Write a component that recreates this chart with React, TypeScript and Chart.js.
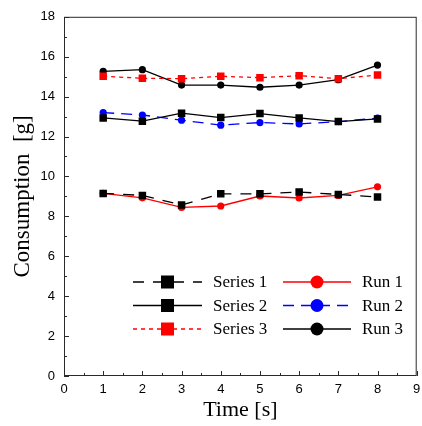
import React, { useEffect, useRef } from "react";
import { Chart, registerables } from "chart.js";
Chart.register(...registerables);

const times = [1, 2, 3, 4, 5, 6, 7, 8];
const series1 = [9.15, 9.05, 8.57, 9.13, 9.13, 9.22, 9.1, 8.97];
const series2 = [12.93, 12.77, 13.17, 12.95, 13.15, 12.93, 12.75, 12.88];
const series3 = [15.02, 14.92, 14.9, 15.02, 14.95, 15.05, 14.9, 15.08];
const run1 = [9.15, 8.93, 8.45, 8.52, 9.02, 8.92, 9.05, 9.48];
const run2 = [13.2, 13.08, 12.82, 12.57, 12.7, 12.63, 12.75, 12.92];
const run3 = [15.27, 15.35, 14.58, 14.58, 14.47, 14.58, 14.85, 15.58];

const xMin = 0, xMax = 9, xStep = 1;
const yMin = 0, yMax = 18, yStep = 2;
const xTickLabels = ["0", "1", "2", "3", "4", "5", "6", "7", "8", "9"];
const xTitle = "Time [s]";
const yTitle = "Consumption  [g]";

const SERIF = "'Liberation Serif', 'Times New Roman', serif";
const SANS = "'Liberation Sans', Arial, sans-serif";

type Def = { label: string; data: number[]; color: string; dash: number[]; style: "rect" | "circle" };
const defs: Def[] = [
  { label: "Series 1", data: series1, color: "#000000", dash: [11, 9], style: "rect" },
  { label: "Series 2", data: series2, color: "#000000", dash: [], style: "rect" },
  { label: "Series 3", data: series3, color: "#ff0000", dash: [4, 4], style: "rect" },
  { label: "Run 1", data: run1, color: "#ff0000", dash: [], style: "circle" },
  { label: "Run 2", data: run2, color: "#0000ff", dash: [11, 7], style: "circle" },
  { label: "Run 3", data: run3, color: "#000000", dash: [], style: "circle" },
];

const framePlugin = {
  id: "frame",
  afterDraw(chart: any) {
    const ctx = chart.ctx;
    const a = chart.chartArea;
    const xs = chart.scales.x;
    const ys = chart.scales.y;
    ctx.save();
    ctx.strokeStyle = "#2a2a2a";
    ctx.lineWidth = 1;
    ctx.strokeRect(a.left + 0.5, a.top + 0.5, a.right - a.left - 1, a.bottom - a.top - 1);
    ctx.beginPath();
    for (let v = xMin; v <= xMax + 1e-9; v += xStep / 2) {
      const px = Math.round(xs.getPixelForValue(v)) + 0.5;
      const major = Math.abs(v - Math.round(v)) < 1e-9;
      ctx.moveTo(px, a.bottom);
      ctx.lineTo(px, a.bottom - (major ? 5 : 3));
    }
    for (let v = yMin; v <= yMax + 1e-9; v += yStep / 2) {
      const py = Math.round(ys.getPixelForValue(v)) + 0.5;
      const major = Math.abs(v / yStep - Math.round(v / yStep)) < 1e-9;
      ctx.moveTo(a.left, py);
      ctx.lineTo(a.left + (major ? 5 : 3), py);
    }
    ctx.stroke();

    // x tick labels
    ctx.fillStyle = "#000";
    ctx.font = `13px ${SANS}`;
    ctx.textAlign = "center";
    ctx.textBaseline = "middle";
    xTickLabels.forEach((t, i) => {
      ctx.fillText(t, xs.getPixelForValue(xMin + i * xStep), a.bottom + 13);
    });

    // axis titles
    ctx.font = `22px ${SERIF}`;
    ctx.fillText(xTitle, (a.left + a.right) / 2, 410);
    ctx.save();
    ctx.translate(23, (a.top + a.bottom) / 2);
    ctx.rotate(-Math.PI / 2);
    ctx.font = `23px ${SERIF}`;
    ctx.fillText(yTitle, 0, 0);
    ctx.restore();

    // legend
    const cols = [
      { lineL: 133, lineR: 202, marker: 167.5, text: 213 },
      { lineL: 283, lineR: 351, marker: 317, text: 362 },
    ];
    const rows = [282, 305.5, 329];
    ctx.font = `17px ${SERIF}`;
    ctx.textAlign = "left";
    defs.forEach((d, i) => {
      const c = cols[Math.floor(i / 3)];
      const y = rows[i % 3];
      ctx.save();
      ctx.strokeStyle = d.color;
      ctx.lineWidth = 1.3;
      ctx.setLineDash(d.dash);
      ctx.beginPath();
      ctx.moveTo(c.lineL, y);
      ctx.lineTo(c.lineR, y);
      ctx.stroke();
      ctx.setLineDash([]);
      ctx.fillStyle = d.color;
      if (d.style === "rect") {
        ctx.fillRect(c.marker - 6.5, y - 6.5, 13, 13);
      } else {
        ctx.beginPath();
        ctx.arc(c.marker, y, 6.5, 0, Math.PI * 2);
        ctx.fill();
      }
      ctx.fillStyle = "#000";
      ctx.textBaseline = "middle";
      ctx.fillText(d.label, c.text, y + 1);
      ctx.restore();
    });
    ctx.restore();
  },
};

export default function App() {
  const ref = useRef<HTMLCanvasElement>(null);
  useEffect(() => {
    document.body.style.margin = "0";
    const chart = new Chart(ref.current!, {
      type: "line",
      data: {
        datasets: defs.map((d) => ({
          label: d.label,
          data: times.map((t, i) => ({ x: t, y: d.data[i] })),
          borderColor: d.color,
          backgroundColor: d.color,
          borderWidth: 1.3,
          borderDash: d.dash,
          pointStyle: d.style,
          pointRadius: d.style === "rect" ? 5.3 : 3.6,
          pointBorderWidth: 0,
          pointBackgroundColor: d.color,
          tension: 0,
          fill: false,
        })),
      },
      options: {
        animation: false,
        responsive: false,
        maintainAspectRatio: false,
        layout: { padding: { top: 16, right: 5, left: 0, bottom: 0 } },
        plugins: { legend: { display: false }, tooltip: { enabled: false } },
        scales: {
          x: {
            type: "linear",
            min: xMin,
            max: xMax,
            grid: { display: false, drawTicks: false },
            border: { display: false },
            ticks: { stepSize: xStep, display: false },
            afterFit: (s: any) => { s.height = 50; },
          },
          y: {
            type: "linear",
            min: yMin,
            max: yMax,
            grid: { display: false, drawTicks: false },
            border: { display: false },
            ticks: { stepSize: yStep, padding: 9, color: "#000", font: { family: SANS, size: 13 } },
            afterFit: (s: any) => { s.width = 64; },
          },
        },
      },
      plugins: [framePlugin],
    } as any);
    return () => chart.destroy();
  }, []);
  return <canvas ref={ref} width={422} height={426} style={{ display: "block" }} />;
}
